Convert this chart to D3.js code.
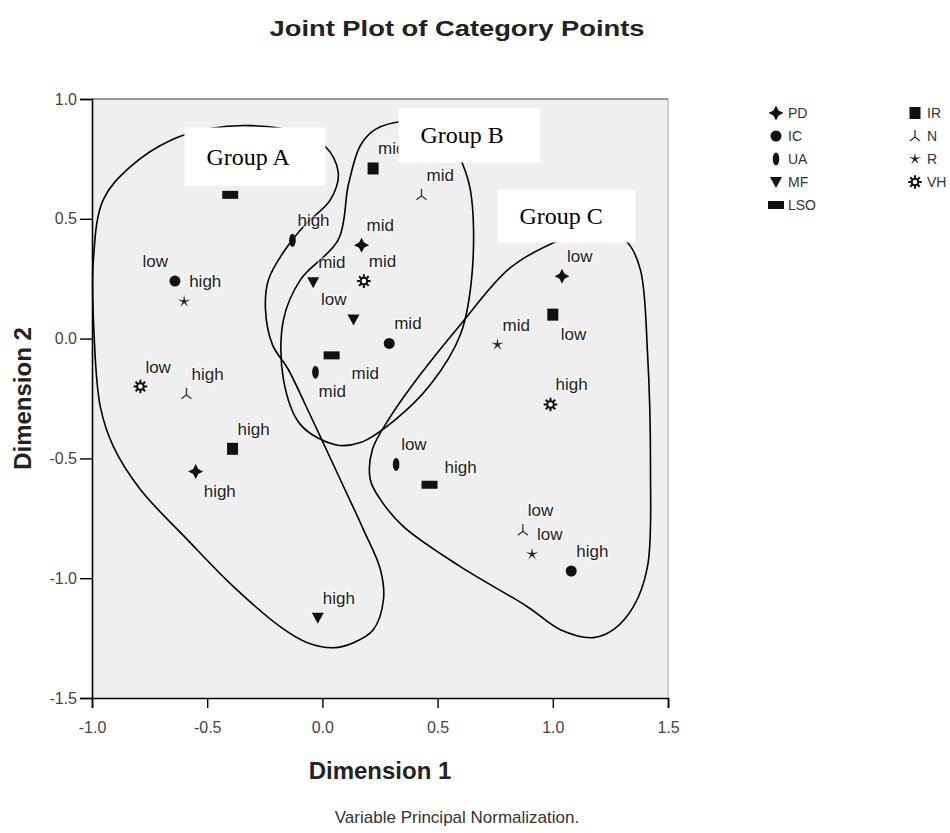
<!DOCTYPE html>
<html>
<head>
<meta charset="utf-8">
<script src="https://cdn.jsdelivr.net/npm/d3@7.9.0/dist/d3.min.js"></script>
<style>
  body { margin: 0; background: #fff; }
  svg { display: block; font-family: 'Liberation Sans', Arial, sans-serif; }
</style>
</head>
<body>
<svg id="chart" width="950" height="833"></svg>
<script>
// DATA
const variables = ['PD', 'IC', 'UA', 'MF', 'LSO', 'IR', 'N', 'R', 'VH'];
const categories = ['low', 'mid', 'high'];

// category coordinates, one value per variable (same order as above)
const dim1Low  = [1.04, -0.64, 0.32, 0.135, -0.40, 1.00, 0.87, 0.91, -0.79];
const dim2Low  = [0.26, 0.24, -0.525, 0.08, 0.60, 0.10, -0.80, -0.90, -0.20];
const dim1Mid  = [0.17, 0.29, -0.03, -0.04, 0.04, 0.22, 0.43, 0.76, 0.18];
const dim2Mid  = [0.39, -0.02, -0.14, 0.235, -0.07, 0.71, 0.60, -0.025, 0.24];
const dim1High = [-0.55, 1.08, -0.13, -0.02, 0.465, -0.39, -0.59, -0.60, 0.99];
const dim2High = [-0.555, -0.97, 0.41, -1.165, -0.61, -0.46, -0.23, 0.155, -0.275];

const xTicks = [-1.0, -0.5, 0.0, 0.5, 1.0, 1.5];
const yTicks = [-1.5, -1.0, -0.5, 0.0, 0.5, 1.0];

// hand drawn group outlines (dimension units)
const groupA = [
  [-0.651, 0.831], [-0.486, 0.877], [-0.313, 0.889], [-0.117, 0.864], [0.013, 0.802],
  [0.069, 0.693], [0.035, 0.580], [-0.074, 0.476], [-0.161, 0.372], [-0.234, 0.246],
  [-0.247, 0.121], [-0.217, -0.025], [-0.148, -0.129], [-0.074, -0.276], [-0.009, -0.409],
  [0.078, -0.589], [0.178, -0.797], [0.252, -0.965], [0.265, -1.090], [0.221, -1.215],
  [0.135, -1.269], [0.048, -1.290], [-0.065, -1.269], [-0.182, -1.203], [-0.386, -1.035],
  [-0.586, -0.839], [-0.790, -0.630], [-0.907, -0.451], [-0.964, -0.284], [-0.990, -0.004],
  [-0.994, 0.330], [-0.951, 0.580], [-0.833, 0.718]
];
const groupB = [
  [0.165, 0.806], [0.113, 0.643], [0.069, 0.413], [-0.095, 0.246], [-0.169, 0.079],
  [-0.169, -0.171], [-0.095, -0.359], [0.056, -0.443], [0.165, -0.434], [0.317, -0.338],
  [0.469, -0.192], [0.599, 0.017], [0.651, 0.288], [0.642, 0.622], [0.590, 0.768],
  [0.512, 0.881], [0.360, 0.906], [0.230, 0.873]
];
const groupC = [
  [1.033, 0.413], [0.816, 0.296], [0.599, 0.058], [0.425, -0.150], [0.295, -0.326],
  [0.217, -0.463], [0.208, -0.589], [0.252, -0.672], [0.352, -0.785], [0.599, -0.952],
  [0.890, -1.119], [1.033, -1.215], [1.176, -1.248], [1.263, -1.215], [1.350, -1.119],
  [1.411, -0.952], [1.424, -0.547], [1.411, -0.058], [1.380, 0.288], [1.324, 0.401],
  [1.207, 0.463]
];
const groupNames = ['Group A', 'Group B', 'Group C'];
// label boxes [x0, y0, x1, y1] in dimension units
const groupBoxes = [
  [-0.599, 0.881, 0.013, 0.639],
  [0.330, 0.964, 0.946, 0.735],
  [0.760, 0.622, 1.359, 0.401]
];

// where a label sits when it is not up-right of its point
// (LSO low is covered by the Group A box in the picture)
const labelPlace = {
  'IC-low': 'nw', 'MF-low': 'nw', 'LSO-mid': 'se2', 'UA-mid': 's',
  'IR-low': 'se', 'PD-high': 'se', 'LSO-high': 'ne2', 'LSO-low': 'hidden'
};

const points = [];
variables.forEach((v, i) => {
  points.push({ v, cat: 'low', d1: dim1Low[i], d2: dim2Low[i] });
  points.push({ v, cat: 'mid', d1: dim1Mid[i], d2: dim2Mid[i] });
  points.push({ v, cat: 'high', d1: dim1High[i], d2: dim2High[i] });
});

// LAYOUT
const svg = d3.select('#chart');
const plotLeft = 92, plotRight = 668, plotTop = 99, plotBottom = 698;

const x = d3.scaleLinear().domain([-1.0, 1.5]).range([plotLeft, plotRight]);
const y = d3.scaleLinear().domain([-1.5, 1.0]).range([plotBottom, plotTop]);

// plot background
svg.append('rect')
  .attr('x', plotLeft).attr('y', plotTop)
  .attr('width', plotRight - plotLeft).attr('height', plotBottom - plotTop)
  .attr('fill', '#efefef');

svg.append('line')
  .attr('x1', plotRight).attr('x2', plotRight).attr('y1', plotTop).attr('y2', plotBottom)
  .attr('stroke', '#a8a8a8');
svg.append('line')
  .attr('x1', plotLeft).attr('x2', plotRight).attr('y1', plotTop).attr('y2', plotTop)
  .attr('stroke', '#333');

// SYMBOLS
function starPath(n, ro, ri) {
  const p = [];
  for (let k = 0; k < n * 2; k++) {
    const a = Math.PI * k / n - Math.PI / 2;
    const r = k % 2 ? ri : ro;
    p.push([Math.cos(a) * r, Math.sin(a) * r]);
  }
  return 'M' + p.map(d => d.join(',')).join('L') + 'Z';
}

function drawSymbol(g, v) {
  if (v === 'PD') {
    g.append('path').attr('d', starPath(4, 7.5, 3.6)).attr('fill', '#111');
  } else if (v === 'IC') {
    g.append('circle').attr('r', 5.5).attr('fill', '#111');
  } else if (v === 'UA') {
    g.append('ellipse').attr('rx', 3.3).attr('ry', 6.5).attr('fill', '#111');
  } else if (v === 'MF') {
    g.append('path').attr('d', 'M-6,-5L6,-5L0,6Z').attr('fill', '#111');
  } else if (v === 'LSO') {
    g.append('rect').attr('x', -8).attr('y', -4).attr('width', 16).attr('height', 8).attr('fill', '#111');
  } else if (v === 'IR') {
    g.append('rect').attr('x', -5.5).attr('y', -6).attr('width', 11).attr('height', 12).attr('fill', '#111');
  } else if (v === 'N') {
    g.append('path').attr('d', 'M0,-6L0,1M0,1L-5,5M0,1L5,5')
      .attr('stroke', '#333').attr('stroke-width', 1.3).attr('fill', 'none');
  } else if (v === 'R') {
    g.append('path').attr('d', starPath(5, 6.5, 1.6)).attr('fill', '#222');
  } else if (v === 'VH') {
    const rays = d3.range(8).map(k => {
      const a = k * Math.PI / 4;
      return `M${Math.cos(a) * 3.5},${Math.sin(a) * 3.5}L${Math.cos(a) * 6.8},${Math.sin(a) * 6.8}`;
    }).join('');
    g.append('path').attr('d', rays).attr('stroke', '#111').attr('stroke-width', 2);
    g.append('circle').attr('r', 3.3).attr('fill', '#fff').attr('stroke', '#111').attr('stroke-width', 2);
  }
}

// GROUP OUTLINES
const outline = d3.line()
  .x(d => x(d[0]))
  .y(d => y(d[1]))
  .curve(d3.curveCatmullRomClosed.alpha(0.5));

svg.append('g')
  .selectAll('path')
  .data([groupA, groupB, groupC])
  .join('path')
  .attr('d', outline)
  .attr('fill', 'none')
  .attr('stroke', '#000')
  .attr('stroke-width', 1.6);

// POINTS
const marks = svg.append('g');
points.forEach(p => {
  const g = marks.append('g').attr('transform', `translate(${x(p.d1)},${y(p.d2)})`);
  drawSymbol(g, p.v);
});

// LABELS
const offsets = {
  ne: [5, -14, 'start'],
  nw: [-7, -14, 'end'],
  se: [8, 25, 'start'],
  se2: [20, 24, 'start'],
  s: [3, 25, 'start'],
  ne2: [15, -12, 'start']
};

svg.append('g')
  .selectAll('text')
  .data(points.filter(p => labelPlace[p.v + '-' + p.cat] !== 'hidden'))
  .join('text')
  .each(function (p) {
    const o = offsets[labelPlace[p.v + '-' + p.cat] || 'ne'];
    d3.select(this)
      .attr('x', x(p.d1) + o[0])
      .attr('y', y(p.d2) + o[1])
      .attr('text-anchor', o[2]);
  })
  .attr('font-size', 17)
  .attr('fill', '#222')
  .attr('stroke', '#fff')
  .attr('stroke-width', 3)
  .attr('stroke-opacity', 0.5)
  .attr('paint-order', 'stroke')
  .text(p => p.cat);

// GROUP BOXES
const boxes = svg.append('g')
  .selectAll('g')
  .data(groupBoxes)
  .join('g');

boxes.append('rect')
  .attr('x', d => x(d[0]))
  .attr('y', d => y(d[1]))
  .attr('width', d => x(d[2]) - x(d[0]))
  .attr('height', d => y(d[3]) - y(d[1]))
  .attr('fill', '#fff');

boxes.append('text')
  .attr('x', d => x(d[0]) + 22)
  .attr('y', d => (y(d[1]) + y(d[3])) / 2 + 8)
  .attr('font-family', "'Liberation Serif', 'Times New Roman', serif")
  .attr('font-size', 24)
  .attr('fill', '#000')
  .text((d, i) => groupNames[i]);

// AXES
const yAxis = svg.append('g')
  .attr('transform', `translate(${plotLeft},0)`)
  .call(d3.axisLeft(y).tickValues(yTicks).tickFormat(d => d.toFixed(1)).tickSize(12).tickPadding(3));

const xAxis = svg.append('g')
  .attr('transform', `translate(0,${plotBottom})`)
  .call(d3.axisBottom(x).tickValues(xTicks).tickFormat(d => d.toFixed(1)).tickSize(10).tickPadding(14));

[yAxis, xAxis].forEach(a => {
  a.select('.domain').attr('stroke', '#000').attr('stroke-width', 1.6);
  a.selectAll('.tick line').attr('stroke', '#000').attr('stroke-width', 1.4);
  a.selectAll('.tick text')
    .attr('font-size', 16)
    .attr('fill', '#444')
    .attr('font-family', "'Liberation Sans', Arial, sans-serif");
});

// TITLES
svg.append('text')
  .attr('x', 457)
  .attr('y', 36)
  .attr('text-anchor', 'middle')
  .attr('font-size', 22)
  .attr('font-weight', 'bold')
  .attr('fill', '#222')
  .attr('textLength', 375)
  .attr('lengthAdjust', 'spacingAndGlyphs')
  .text('Joint Plot of Category Points');

svg.append('text')
  .attr('x', (plotLeft + plotRight) / 2)
  .attr('y', 779)
  .attr('text-anchor', 'middle')
  .attr('font-size', 24)
  .attr('font-weight', 'bold')
  .attr('fill', '#222')
  .text('Dimension 1');

svg.append('text')
  .attr('transform', `translate(31,${(plotTop + plotBottom) / 2}) rotate(-90)`)
  .attr('text-anchor', 'middle')
  .attr('font-size', 24)
  .attr('font-weight', 'bold')
  .attr('fill', '#222')
  .text('Dimension 2');

svg.append('text')
  .attr('x', 457)
  .attr('y', 823)
  .attr('text-anchor', 'middle')
  .attr('font-size', 17)
  .attr('fill', '#333')
  .text('Variable Principal Normalization.');

// LEGEND
const legend = svg.append('g');
const legendCols = [776, 915];
const legendRow0 = 113, legendStep = 23;

variables.forEach((v, i) => {
  const col = i < 5 ? 0 : 1;
  const row = i < 5 ? i : i - 5;
  const g = legend.append('g')
    .attr('transform', `translate(${legendCols[col]},${legendRow0 + row * legendStep})`);
  drawSymbol(g, v);
  g.append('text')
    .attr('x', 12)
    .attr('y', 5)
    .attr('font-size', 14)
    .attr('fill', '#333')
    .text(v);
});
</script>
</body>
</html>
